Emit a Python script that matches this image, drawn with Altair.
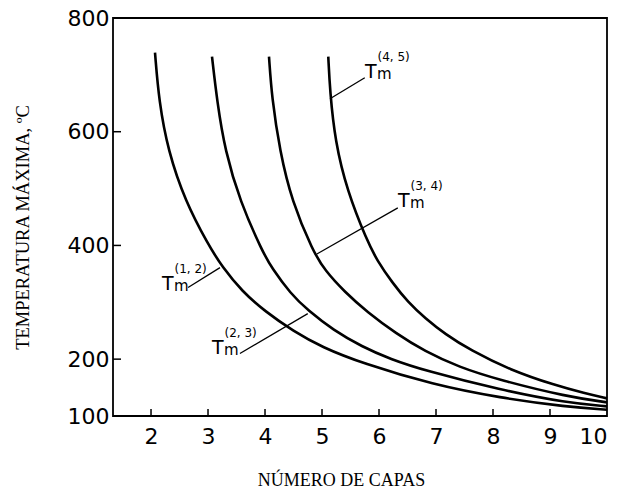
import altair as alt
import pandas as pd

# ---- curve data (número de capas vs temperatura máxima) ----
x12 = [2.07, 2.14, 2.30, 2.60, 3.00, 3.25, 3.60, 4.00, 4.50, 5.00, 5.70, 6.95, 8.12, 9.30, 10.0]
y12 = [739, 653, 566, 478, 402, 362, 319, 284, 249, 221, 193, 155, 132, 116, 111]

x23 = [3.07, 3.16, 3.30, 3.56, 3.95, 4.12, 4.45, 4.75, 5.20, 5.70, 6.20, 6.80, 8.12, 9.30, 10.0]
y23 = [732, 653, 566, 478, 390, 360, 315, 286, 251, 222, 200, 180, 146, 123, 117]

x34 = [4.07, 4.12, 4.26, 4.47, 4.84, 5.05, 5.40, 5.79, 6.30, 6.80, 7.40, 8.12, 9.30, 10.0]
y34 = [732, 660, 566, 478, 390, 356, 318, 283, 245, 214, 186, 163, 134, 124]

x45 = [5.11, 5.14, 5.23, 5.44, 5.79, 5.97, 6.23, 6.51, 6.81, 7.16, 7.60, 8.30, 9.09, 9.61, 10.0]
y45 = [732, 671, 583, 496, 408, 373, 335, 300, 272, 244, 216, 181, 154, 140, 131]

series_names = ["(1,2)", "(2,3)", "(3,4)", "(4,5)"]

# ---- axis ticks ----
x_ticks = [2, 3, 4, 5, 6, 7, 8, 9]
x_labels = [2, 3, 4, 5, 6, 7, 8, 9, 10]
y_ticks = [200, 400, 600]
y_labels = [100, 200, 400, 600, 800]

# ---- label annotations (data coordinates) ----
lead_x1 = [2.65, 3.56, 6.33, 5.75]
lead_y1 = [326, 210, 466, 695]
lead_x2 = [3.21, 4.75, 4.91, 5.14]
lead_y2 = [361, 280, 385, 658]
t_x = [2.193, 3.070, 6.333, 5.754]
t_y = [321, 209, 467, 695]
m_x = [2.404, 3.281, 6.544, 5.965]
m_y = [319, 207, 465, 693]
s_x = [2.412, 3.289, 6.553, 5.974]
s_y = [351, 239, 497, 725]
sup_text = ["(1, 2)", "(2, 3)", "(3, 4)", "(4, 5)"]

rows = []
for name, xs_, ys_ in zip(series_names, [x12, x23, x34, x45], [y12, y23, y34, y45]):
    for i, (a, b) in enumerate(zip(xs_, ys_)):
        rows.append({"serie": name, "n": a, "t": b, "o": i})
curves = pd.DataFrame(rows)

leaders = pd.DataFrame({"x1": lead_x1, "y1": lead_y1, "x2": lead_x2, "y2": lead_y2})

txt = pd.DataFrame(
    [{"x": a, "y": b, "txt": "T", "fs": 19} for a, b in zip(t_x, t_y)]
    + [{"x": a, "y": b, "txt": "m", "fs": 15} for a, b in zip(m_x, m_y)]
    + [{"x": a, "y": b, "txt": s, "fs": 12} for a, b, s in zip(s_x, s_y, sup_text)]
)

xs = alt.Scale(domain=[1.333, 10], nice=False, zero=False)
ys = alt.Scale(domain=[100, 800], nice=False, zero=False)

base_x_axis = alt.Axis(values=x_labels, title="NÚMERO DE CAPAS", format="d",
                       titleFont="Liberation Serif", titleFontSize=18, titleFontWeight="normal",
                       titleBaseline="alphabetic", titleX=228, titleY=69,
                       labelPadding=10)
base_y_axis = alt.Axis(values=y_labels, title="TEMPERATURA MÁXIMA, ºC", format="d",
                       titleFont="Liberation Serif", titleFontSize=18.5, titleFontWeight="normal",
                       titleAngle=270, titleBaseline="alphabetic", titleAlign="center",
                       titleX=-85, titleY=209, labelPadding=4)

lines = alt.Chart(curves).mark_line(interpolate="basis", color="black", strokeWidth=2.6).encode(
    x=alt.X("n:Q", scale=xs, axis=base_x_axis),
    y=alt.Y("t:Q", scale=ys, axis=base_y_axis),
    detail="serie:N",
    order="o:Q",
)

lead = alt.Chart(leaders).mark_rule(color="black", strokeWidth=1.3).encode(
    x=alt.X("x1:Q", scale=xs), y=alt.Y("y1:Q", scale=ys),
    x2="x2:Q", y2="y2:Q",
)

labels = alt.Chart(txt).mark_text(align="left", baseline="alphabetic", font="DejaVu Sans",
                                  color="black").encode(
    x=alt.X("x:Q", scale=xs), y=alt.Y("y:Q", scale=ys),
    text="txt:N",
    size=alt.Size("fs:Q", scale=None, legend=None),
)

ytk = alt.Chart(pd.DataFrame({"v": y_ticks})).mark_rule(color="black", strokeWidth=1.5).encode(
    y=alt.Y("v:Q", scale=ys), x=alt.value(0), x2=alt.value(8),
)
xtk = alt.Chart(pd.DataFrame({"v": x_ticks})).mark_rule(color="black", strokeWidth=1.5).encode(
    x=alt.X("v:Q", scale=xs), y=alt.value(398), y2=alt.value(391),
)

chart = alt.layer(lines, lead, labels, ytk, xtk).properties(
    width=494, height=398,
    autosize=alt.AutoSizeParams(type="none"),
    padding={"left": 105, "top": 10, "right": 15, "bottom": 73},
).configure_view(
    stroke="black", strokeWidth=1.8,
).configure_axis(
    domain=False, grid=False, ticks=False, tickSize=0,
    labelFont="DejaVu Sans", labelFontSize=22, labelColor="black", titleColor="black",
)

chart.save("out.html", embed_options={"renderer": "svg", "actions": False})
